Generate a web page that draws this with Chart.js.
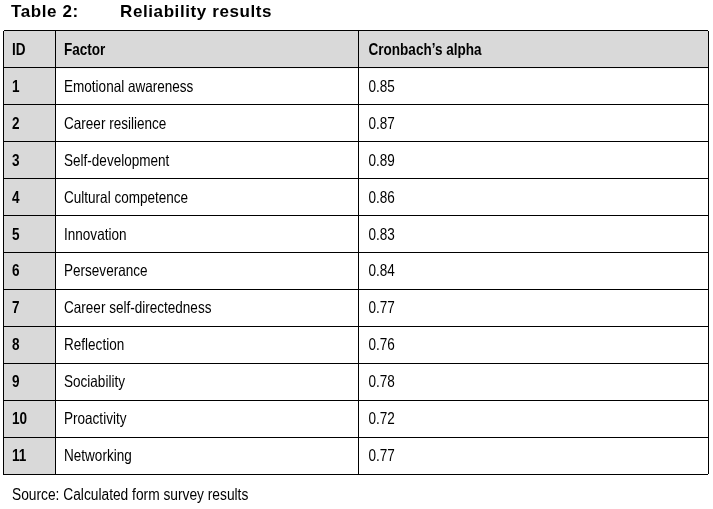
<!DOCTYPE html>
<html>
<head>
<meta charset="utf-8">
<script src="https://cdn.jsdelivr.net/npm/chart.js@4/dist/chart.umd.min.js"></script>
<style>
  html, body { margin: 0; padding: 0; background: #fff; }
  #chart { display: block; }
</style>
</head>
<body>
<canvas id="chart" width="713" height="509"></canvas>
<script>
// datos de la tabla
const tableTitle = ["Table 2:", "Reliability results"];
const headers = ["ID", "Factor", "Cronbach’s alpha"];
const ids = ["1", "2", "3", "4", "5", "6", "7", "8", "9", "10", "11"];
const factors = [
  "Emotional awareness",
  "Career resilience",
  "Self-development",
  "Cultural competence",
  "Innovation",
  "Perseverance",
  "Career self-directedness",
  "Reflection",
  "Sociability",
  "Proactivity",
  "Networking",
];
const alphas = [0.85, 0.87, 0.89, 0.86, 0.83, 0.84, 0.77, 0.76, 0.78, 0.72, 0.77];
const sourceNote = "Source: Calculated form survey results";

// bordes de columnas en unidades del eje x (0-100)
const colEdges = [0, 7.38, 50.43, 100];
const rowLabels = ["header"].concat(ids);

const FONT = "'Liberation Sans', Arial, sans-serif";
const GRAY = "#d9d9d9";

// texto algo estrecho, como en la tabla original
function narrowText(ctx, txt, x, y, sx) {
  ctx.save();
  ctx.translate(x, y);
  ctx.scale(sx, 1);
  ctx.fillText(txt, 0, 0);
  ctx.restore();
}

// texto de las celdas, titulo y fuente
const tableText = {
  id: "tableText",
  afterDraw(chart) {
    const ctx = chart.ctx;
    const x = chart.scales.x;
    const y = chart.scales.y;
    const area = chart.chartArea;
    ctx.save();
    ctx.fillStyle = "#000";
    ctx.textBaseline = "alphabetic";
    ctx.textAlign = "left";

    ctx.font = "bold 17px " + FONT;
    ctx.letterSpacing = "0.6px";
    ctx.fillText(tableTitle[0], 11, area.top - 14);
    ctx.fillText(tableTitle[1], 120, area.top - 14);
    ctx.letterSpacing = "0px";

    rowLabels.forEach((lab, i) => {
      const py = y.getPixelForValue(i) + 5.5;
      let cells;
      if (i === 0) {
        cells = headers;
      } else {
        cells = [ids[i - 1], factors[i - 1], alphas[i - 1].toFixed(2)];
      }
      cells.forEach((txt, c) => {
        const bold = i === 0 || c === 0;
        ctx.font = (bold ? "bold " : "") + "16.5px " + FONT;
        const px = x.getPixelForValue(colEdges[c]) + (c === 2 ? 10 : 9);
        narrowText(ctx, txt, px, py, 0.82);
      });
    });

    ctx.font = "16px " + FONT;
    narrowText(ctx, sourceNote, 12, area.bottom + 26, 0.86);
    ctx.restore();
  },
};

const ctx = document.getElementById("chart").getContext("2d");

new Chart(ctx, {
  type: "bar",
  data: {
    labels: rowLabels,
    datasets: [
      {
        // columna ID sombreada
        data: rowLabels.map(() => [colEdges[0], colEdges[1]]),
        backgroundColor: GRAY,
        borderWidth: 0,
        grouped: false,
        barPercentage: 1,
        categoryPercentage: 1,
      },
      {
        // fila de encabezado sombreada
        data: rowLabels.map((lab, i) => (i === 0 ? [colEdges[0], colEdges[3]] : null)),
        backgroundColor: GRAY,
        borderWidth: 0,
        grouped: false,
        barPercentage: 1,
        categoryPercentage: 1,
      },
    ],
  },
  options: {
    indexAxis: "y",
    responsive: false,
    animation: false,
    devicePixelRatio: 1,
    layout: { padding: { left: 3, top: 31, right: 5, bottom: 35 } },
    plugins: {
      legend: { display: false },
      tooltip: { enabled: false },
    },
    scales: {
      x: {
        type: "linear",
        position: "top",
        min: 0,
        max: 100,
        afterBuildTicks: (axis) => {
          axis.ticks = colEdges.map((v) => ({ value: v }));
        },
        ticks: { display: false },
        grid: { color: "#000", lineWidth: 1, drawTicks: false, z: 1 },
        border: { display: false },
      },
      y: {
        type: "category",
        offset: true,
        ticks: { display: false },
        grid: { offset: true, color: "#000", lineWidth: 1, drawTicks: false, z: 1 },
        border: { display: true, color: "#000", width: 1, z: 1 },
      },
    },
  },
  plugins: [tableText],
});
</script>
</body>
</html>
